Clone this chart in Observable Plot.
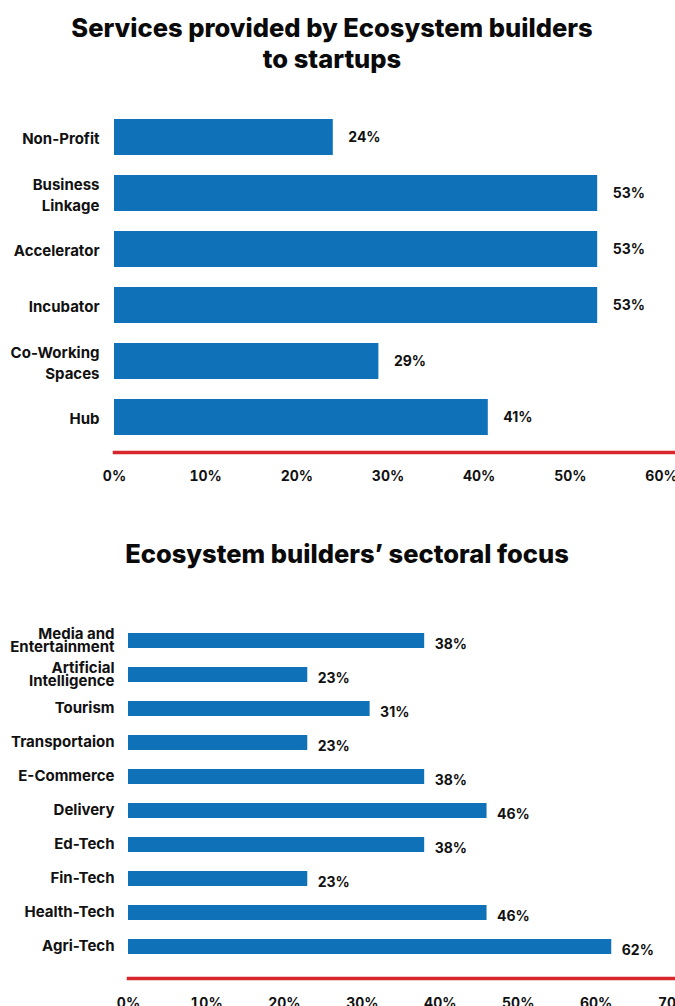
<!DOCTYPE html>
<html><head><meta charset="utf-8">
<script src="https://cdn.jsdelivr.net/npm/d3@7"></script>
<script src="https://cdn.jsdelivr.net/npm/@observablehq/plot@0.6"></script>
<style>
body{margin:0;background:#fff;font-family:Inter,"Open Sans",sans-serif;}
#wrap{position:relative;width:675px;height:1006px;overflow:hidden;background:#fff;}
.title{position:absolute;font-weight:800;font-size:25.5px;line-height:31px;color:#0a0a0a;text-align:center;white-space:nowrap;}
.chart{position:absolute;left:0;}
</style></head><body>
<div id="wrap">
<div class="title" id="t1" style="left:0;width:664px;top:12px">Services provided by Ecosystem builders<br>to startups</div>
<div class="title" id="t2" style="left:0;width:694px;top:538px">Ecosystem builders’ sectoral focus</div>
<div class="chart" id="c1" style="top:90px"></div>
<div class="chart" id="c2" style="top:590px"></div>
</div>
<script>
const services = ["Non-Profit", "Business\nLinkage", "Accelerator", "Incubator", "Co-Working\nSpaces", "Hub"];
const serviceValues = [24, 53, 53, 53, 29, 41];
const serviceTicks = [0, 10, 20, 30, 40, 50, 60];

const sectors = ["Media and\nEntertainment", "Artificial\nIntelligence", "Tourism", "Transportaion", "E-Commerce", "Delivery", "Ed-Tech", "Fin-Tech", "Health-Tech", "Agri-Tech"];
const sectorValues = [38, 23, 31, 23, 38, 46, 38, 23, 46, 62];
const sectorTicks = [0, 10, 20, 30, 40, 50, 60, 70];

const BLUE = "#0f71b8", RED = "#d8262d", INK = "#111111";
const baseStyle = {fontFamily: "Inter, 'Open Sans', sans-serif", fontSize: "14px", fontWeight: 700, color: INK, background: "#fff", overflow: "visible"};

const d1 = services.map((c, i) => ({cat: c, value: serviceValues[i]}));
const chart1 = Plot.plot({
  width: 675, height: 410,
  marginLeft: 114, marginRight: 0, marginTop: 0, marginBottom: 48,
  style: baseStyle,
  x: {domain: [0, 60], range: [114, 661]},
  y: {domain: services, range: [17.8, 356.2], paddingInner: 0.36, paddingOuter: 0.18},
  marks: [
    Plot.barX(d1, {x: "value", y: "cat", fill: BLUE}),
    Plot.text(d1, {x: "value", y: "cat", text: d => d.value + "%", dx: 15, textAnchor: "start", fontWeight: 700, fontSize: 14, fill: INK}),
    Plot.frame({anchor: "bottom", stroke: RED, strokeWidth: 3.5}),
    Plot.axisX({ticks: serviceTicks, tickFormat: d => d + "%", tickSize: 0, tickPadding: 19, label: null, fontSize: 14, fontWeight: 700}),
    Plot.axisY({tickSize: 0, tickPadding: 15, label: null, lineHeight: 1.45, fontSize: 15, fontWeight: 700})
  ]
});
document.getElementById("c1").appendChild(chart1);

const d2 = sectors.map((c, i) => ({cat: c, value: sectorValues[i]}));
const chart2 = Plot.plot({
  width: 675, height: 416,
  marginLeft: 128, marginRight: 0, marginTop: 0, marginBottom: 28,
  style: baseStyle,
  x: {domain: [0, 70], range: [128, 673.6]},
  y: {domain: sectors, range: [30.2, 375.8], paddingInner: 0.566, paddingOuter: 0.283},
  marks: [
    Plot.barX(d2, {x: "value", y: "cat", fill: BLUE}),
    Plot.text(d2, {x: "value", y: "cat", text: d => d.value + "%", dx: 10, dy: 4, textAnchor: "start", fontWeight: 700, fontSize: 14, fill: INK}),
    Plot.frame({anchor: "bottom", stroke: RED, strokeWidth: 3.5}),
    Plot.axisX({ticks: sectorTicks, tickFormat: d => d + "%", tickSize: 0, tickPadding: 20, label: null, fontSize: 14, fontWeight: 700}),
    Plot.axisY({tickSize: 0, tickPadding: 14, label: null, lineHeight: 0.9, fontSize: 15, fontWeight: 700})
  ]
});
document.getElementById("c2").appendChild(chart2);
</script>
</body></html>
